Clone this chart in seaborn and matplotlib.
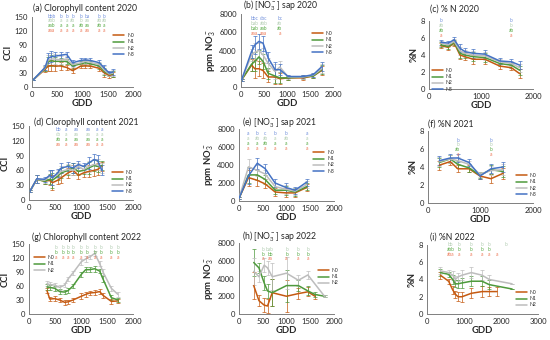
import numpy as np
import matplotlib
matplotlib.use("Agg")
import matplotlib.pyplot as plt
import matplotlib.transforms as mtransforms
from matplotlib.lines import Line2D
import seaborn as sns

# --- colours per N treatment ---
COLORS = {"N0": "#c55a11", "N1": "#4e9a3c", "N2": "#bdbdbd", "N3": "#4472c4"}
LET_COLORS = {"N0": "#ee7b5a", "N1": "#5aab48", "N2": "#b3cdb3", "N3": "#7391dc"}

# --- (a) Chlorophyll 2020 ---
A_GDD = [20, 260, 320, 385, 450, 565, 685, 805, 970, 1055, 1150, 1335, 1435, 1530, 1600]
A_N0 = [15, 38, 45, 46, 45, 45, 42, 35, 45, 45, 45, 40, 30, 25, 27]
A_N1 = [15, 40, 55, 56, 55, 55, 55, 45, 50, 52, 50, 45, 33, 28, 28]
A_N2 = [15, 41, 58, 60, 60, 58, 60, 48, 52, 55, 53, 48, 36, 28, 30]
A_N3 = [15, 42, 62, 65, 66, 68, 70, 52, 57, 58, 57, 52, 40, 30, 32]
A_ERR = [1, 5, 10, 12, 10, 8, 6, 6, 5, 5, 5, 6, 8, 5, 6]
A_LET_GDD = [385, 565, 685, 805, 970, 1100, 1335, 1435]
A_LET_N3 = ["bbb", "b", "b", "b", "b", "ba", "b", "b"]
A_LET_N2 = ["abb", "a", "a", "ab", "b", "aa", "ab", "ab"]
A_LET_N1 = ["aab", "a", "a", "a", "ab", "aa", "ab", "a"]
A_LET_N0 = ["aaa", "a", "a", "a", "a", "aa", "a", "a"]

# --- (b) NO3 sap 2020 ---
B_GDD = [15, 230, 300, 390, 480, 590, 740, 845, 1025, 1350, 1570, 1750]
B_N0 = [800, 2400, 2000, 2000, 1800, 1100, 1100, 900, 1000, 1000, 1200, 1800]
B_N1 = [800, 2500, 2800, 3300, 2800, 1500, 1200, 1000, 1000, 1100, 1200, 1900]
B_N2 = [800, 3500, 3800, 4000, 3500, 2600, 1700, 2200, 1100, 1100, 1300, 2000]
B_N3 = [800, 3900, 4600, 5000, 4800, 3200, 1900, 1900, 1150, 1150, 1350, 2200]
B_ERR = [100, 700, 1000, 800, 800, 600, 800, 600, 200, 200, 200, 500]
B_LET_GDD = [290, 490, 845]
B_LET_N3 = ["bbc", "cbc", "bc"]
B_LET_N2 = ["bab", "abb", "ab"]
B_LET_N1 = ["bab", "aab", "ab"]
B_LET_N0 = ["aaa", "aaa", "a"]

# --- (c) %N 2020 ---
C_GDD = [230, 370, 485, 595, 690, 850, 1075, 1360, 1585, 1745]
C_N0 = [5.1, 4.9, 5.4, 4.0, 3.8, 3.5, 3.5, 2.7, 2.5, 1.8]
C_N1 = [5.2, 5.0, 5.5, 4.2, 4.0, 3.8, 3.7, 3.0, 2.8, 2.2]
C_N2 = [5.4, 5.2, 5.6, 4.5, 4.2, 4.0, 3.9, 3.2, 3.0, 2.5]
C_N3 = [5.5, 5.4, 5.8, 4.8, 4.4, 4.2, 4.1, 3.3, 3.2, 2.8]
C_ERR = [0.3, 0.3, 0.3, 0.5, 0.4, 0.5, 0.5, 0.3, 0.3, 0.5]
C_LET_GDD = [230, 1585]
C_LET_N3 = ["b", "b"]
C_LET_N2 = ["ab", "b"]
C_LET_N1 = ["ab", "ab"]
C_LET_N0 = ["a", "a"]

# --- (d) Chlorophyll 2021 ---
D_GDD = [20, 150, 300, 400, 450, 550, 620, 750, 850, 950, 1050, 1150, 1250, 1320, 1400]
D_N0 = [18, 42, 38, 40, 35, 40, 45, 55, 60, 50, 55, 58, 60, 62, 68]
D_N1 = [18, 42, 38, 42, 40, 48, 55, 60, 65, 58, 60, 65, 70, 68, 70]
D_N2 = [18, 42, 40, 48, 45, 52, 58, 62, 60, 68, 62, 68, 72, 72, 65]
D_N3 = [18, 43, 42, 50, 45, 55, 65, 68, 65, 72, 68, 75, 82, 80, 60]
D_ERR = [2, 8, 5, 10, 15, 8, 10, 10, 10, 8, 8, 12, 12, 12, 10]
D_LET_GDD = [570, 720, 912, 1132, 1300, 1395]
D_LET_N3 = ["bb", "a", "aa", "aa", "a", "a"]
D_LET_N2 = ["cb", "a", "aa", "aa", "a", "a"]
D_LET_N1 = ["ab", "a", "aa", "aa", "a", "a"]
D_LET_N0 = ["aa", "a", "aa", "aa", "a", "a"]

# --- (e) NO3 sap 2021 ---
E_GDD = [0, 200, 385, 550, 760, 990, 1180, 1425]
E_N0 = [300, 2600, 2300, 1900, 1000, 900, 900, 1500]
E_N1 = [300, 2900, 2900, 2400, 1200, 1200, 1000, 1600]
E_N2 = [300, 3800, 3400, 3000, 1600, 1300, 1100, 1800]
E_N3 = [300, 2800, 4200, 3600, 2000, 1500, 1200, 2100]
E_ERR = [100, 900, 600, 500, 400, 500, 400, 400]
E_LET_GDD = [200, 385, 550, 760, 990, 1425]
E_LET_N3 = ["a", "b", "c", "b", "b", "a"]
E_LET_N2 = ["a", "ab", "ab", "a", "ab", "a"]
E_LET_N1 = ["a", "a", "ab", "a", "a", "a"]
E_LET_N0 = ["a", "a", "a", "a", "a", "a"]

# --- (f) %N 2021 ---
F_GDD = [215, 423, 568, 782, 990, 1200, 1432]
F_N0 = [4.2, 4.6, 3.8, 3.8, 3.0, 2.7, 3.3]
F_N1 = [4.5, 4.9, 4.3, 3.9, 3.1, 3.7, 3.5]
F_N2 = [4.6, 4.9, 4.7, 4.3, 3.2, 3.6, 3.7]
F_N3 = [4.7, 5.0, 5.0, 4.5, 3.0, 3.8, 4.0]
F_ERR = [0.5, 0.4, 0.4, 0.4, 0.3, 0.5, 0.6]
F_LET_GDD = [568, 1200]
F_LET_N3 = ["b", "b"]
F_LET_N2 = ["b", "b"]
F_LET_N1 = ["ab", "b"]
F_LET_N0 = ["a", "a"]

# --- (g) Chlorophyll 2022 ---
G_GDD = [346, 400, 495, 590, 685, 750, 846, 1006, 1090, 1167, 1263, 1359, 1423, 1583, 1711]
G_N0 = [50, 32, 33, 30, 25, 26, 30, 38, 42, 45, 46, 48, 40, 27, 28]
G_N1 = [58, 57, 55, 48, 47, 50, 60, 85, 95, 95, 97, 92, 75, 35, 30]
G_N2 = [65, 63, 62, 57, 62, 75, 88, 112, 118, 122, 130, 108, 90, 55, 42]
G_ERR = [6, 5, 5, 5, 5, 5, 5, 6, 6, 5, 6, 5, 6, 6, 5]
G_LET_GDD = [526, 654, 750, 846, 1006, 1115, 1263, 1391, 1583, 1711]
G_LET_N2 = ["b", "b", "b", "b", "b", "b", "b", "b", "b", "b"]
G_LET_N1 = ["b", "b", "b", "b", "b", "b", "b", "b", "b", "b"]
G_LET_N0 = ["a", "a", "a", "a", "a", "a", "a", "a", "a", "a"]

# --- (h) NO3 sap 2022 ---
H_GDD = [310, 420, 530, 600, 700, 1000, 1250, 1450, 1600, 1800]
H_N0 = [3200, 1500, 1000, 900, 2400, 2000, 2300, 2500, 2000, np.nan]
H_N1 = [5800, 5200, 3500, 2600, 2400, 3200, 3200, 2600, 2200, 2000]
H_N2 = [4800, 4200, 5500, 5200, 4200, 4600, 3800, 4400, np.nan, 2000]
H_ERR = [1500, 600, 800, 800, 1500, 1800, 600, 500, 300, 100]
H_LET_GDD = [505, 650, 1000, 1245, 1445]
H_LET_N2 = ["b", "bab", "b", "b", "b"]
H_LET_N1 = ["b", "bb", "b", "b", "b"]
H_LET_N0 = ["a", "aa", "a", "a", "a"]

# --- (i) %N 2022 ---
I_GDD = [360, 585, 694, 766, 838, 946, 1198, 1487, 1685, 1892, 2300]
I_N0 = [4.5, 3.8, 2.8, 2.3, 2.0, 2.0, 2.4, 2.6, 2.6, 2.6, np.nan]
I_N1 = [4.8, 4.6, 4.0, 3.5, 3.5, 3.6, 3.8, 3.8, 3.4, np.nan, 2.9]
I_N2 = [5.0, 4.8, 4.5, 4.0, 4.3, 4.5, 4.8, 4.5, 4.0, np.nan, 3.5]
I_ERR = [0.4, 0.3, 0.5, 0.4, 0.5, 0.6, 0.6, 0.6, 0.5, 0.5, 0.0]
I_LET_GDD = [640, 856, 1198, 1487, 1685, 1892, 2135]
I_LET_N2 = ["bb", "b", "b", "b", "b", "", "b"]
I_LET_N1 = ["abb", "b", "b", "b", "b", "", ""]
I_LET_N0 = ["aba", "a", "a", "a", "a", "a", ""]

NO3_LABEL = "ppm NO$_3^-$"

sns.set_theme(style="white")
plt.rcParams["font.family"] = ["Lato", "DejaVu Sans"]
plt.rcParams["mathtext.fontset"] = "custom"
plt.rcParams["mathtext.rm"] = "Lato"
plt.rcParams["mathtext.it"] = "Lato:italic"
plt.rcParams["mathtext.bf"] = "Lato:bold"

W, H = 550, 340
fig = plt.figure(figsize=(5.5, 3.4), dpi=100)


def px_axes(left, right, top, bottom):
    return fig.add_axes([left / W, 1 - bottom / H, (right - left) / W, (bottom - top) / H])


def draw_panel(ax, gdd, series, err, xmax, xticks, ymax, yticks, ylabel,
               let_gdd, letters, rows, title, title_xy, leg_xy):
    x = np.array(gdd, dtype=float)
    e = np.array(err, dtype=float)
    for name, vals in series.items():
        y = np.array(vals, dtype=float)
        ok = ~np.isnan(y)
        ax.errorbar(x[ok], y[ok], yerr=e[ok], fmt="none", ecolor=COLORS[name],
                    elinewidth=0.5, capsize=1.2, capthick=0.5, zorder=2)
        sns.lineplot(x=x[ok], y=y[ok], ax=ax, color=COLORS[name], lw=1.1, zorder=3)

    ax.set_xlim(0, xmax)
    ax.set_ylim(0, ymax)
    ax.set_xticks(xticks)
    ax.set_yticks(yticks)
    ax.set_xlabel("GDD", fontsize=6.8, fontweight="bold", labelpad=0.5)
    ax.set_ylabel(ylabel, fontsize=6.8, fontweight="bold", labelpad=1)
    ax.tick_params(axis="both", labelsize=5.5, length=2, width=0.5, pad=1, direction="out")
    for s in ["top", "right"]:
        ax.spines[s].set_visible(False)
    for s in ["left", "bottom"]:
        ax.spines[s].set_color("#7f7f7f")
        ax.spines[s].set_linewidth(0.7)

    # significance letters above the curves
    trans = mtransforms.blended_transform_factory(ax.transData, ax.transAxes)
    for (name, labs), ry in zip(letters.items(), rows):
        for gx, lab in zip(let_gdd, labs):
            if lab:
                ax.text(gx, ry, lab, transform=trans, fontsize=3.5, color=LET_COLORS[name],
                        ha="center", va="center", clip_on=False)

    fig.text(title_xy[0] / W, 1 - title_xy[1] / H, title, fontsize=6.2,
             ha="left", va="center")

    handles = [Line2D([0], [0], color=COLORS[n], lw=1.1) for n in series]
    ax.legend(handles, list(series.keys()), loc="upper left",
              bbox_to_anchor=(leg_xy[0] / W, 1 - leg_xy[1] / H),
              bbox_transform=fig.transFigure, frameon=False, fontsize=3.6,
              handlelength=2.2, handletextpad=0.6, labelspacing=0.25,
              borderpad=0, borderaxespad=0)


X2000 = [0, 500, 1000, 1500, 2000]
CCI_T = [0, 30, 60, 90, 120, 150]
NO3_T = [0, 2000, 4000, 6000, 8000]
PN_T = [0, 2, 4, 6, 8]

# row 1
draw_panel(px_axes(32, 133, 17, 87), A_GDD,
           {"N0": A_N0, "N1": A_N1, "N2": A_N2, "N3": A_N3}, A_ERR,
           2000, X2000, 150, CCI_T, "CCI", A_LET_GDD,
           {"N3": A_LET_N3, "N2": A_LET_N2, "N1": A_LET_N1, "N0": A_LET_N0},
           [1.014, 0.943, 0.872, 0.801], "(a) Clorophyll content 2020", (33, 8), (113, 33))
draw_panel(px_axes(241, 333, 14, 87), B_GDD,
           {"N0": B_N0, "N1": B_N1, "N2": B_N2, "N3": B_N3}, B_ERR,
           2000, X2000, 8000, NO3_T, NO3_LABEL, B_LET_GDD,
           {"N3": B_LET_N3, "N2": B_LET_N2, "N1": B_LET_N1, "N0": B_LET_N0},
           [0.932, 0.864, 0.796, 0.728], "(b) [NO$_3^-$] sap 2020", (243, 6), (312, 31))
draw_panel(px_axes(429, 533, 21, 89), C_GDD,
           {"N0": C_N0, "N1": C_N1, "N2": C_N2, "N3": C_N3}, C_ERR,
           2000, [0, 1000, 2000], 8, PN_T, "%N", C_LET_GDD,
           {"N3": C_LET_N3, "N2": C_LET_N2, "N1": C_LET_N1, "N0": C_LET_N0},
           [1.0, 0.927, 0.854, 0.781], "(c) % N 2020", (430, 9), (432, 68))

# row 2
draw_panel(px_axes(29, 133, 126, 200), D_GDD,
           {"N0": D_N0, "N1": D_N1, "N2": D_N2, "N3": D_N3}, D_ERR,
           2000, X2000, 150, CCI_T, "CCI", D_LET_GDD,
           {"N3": D_LET_N3, "N2": D_LET_N2, "N1": D_LET_N1, "N0": D_LET_N0},
           [0.955, 0.888, 0.821, 0.754], "(d) Clorophyll content 2021", (34, 122), (112, 170))
draw_panel(px_axes(239, 334, 129, 201), E_GDD,
           {"N0": E_N0, "N1": E_N1, "N2": E_N2, "N3": E_N3}, E_ERR,
           2000, X2000, 8000, NO3_T, NO3_LABEL, E_LET_GDD,
           {"N3": E_LET_N3, "N2": E_LET_N2, "N1": E_LET_N1, "N0": E_LET_N0},
           [0.931, 0.862, 0.793, 0.724], "(e) [NO$_3^-$] sap 2021", (242, 123), (313, 150))
draw_panel(px_axes(428, 533, 131, 203), F_GDD,
           {"N0": F_N0, "N1": F_N1, "N2": F_N2, "N3": F_N3}, F_ERR,
           2000, [0, 1000, 2000], 8, PN_T, "%N", F_LET_GDD,
           {"N3": F_LET_N3, "N2": F_LET_N2, "N1": F_LET_N1, "N0": F_LET_N0},
           [0.875, 0.806, 0.737, 0.668], "(f) %N 2021", (428, 124), (516, 173))

# row 3
draw_panel(px_axes(29, 133, 244, 314), G_GDD,
           {"N0": G_N0, "N1": G_N1, "N2": G_N2}, G_ERR,
           2000, X2000, 150, CCI_T, "CCI", G_LET_GDD,
           {"N2": G_LET_N2, "N1": G_LET_N1, "N0": G_LET_N0},
           [0.943, 0.872, 0.801], "(g) Chlorophyll content 2022", (32, 237), (34, 255))
draw_panel(px_axes(239, 334, 243, 314), H_GDD,
           {"N0": H_N0, "N1": H_N1, "N2": H_N2}, H_ERR,
           2000, X2000, 8000, NO3_T, NO3_LABEL, H_LET_GDD,
           {"N2": H_LET_N2, "N1": H_LET_N1, "N0": H_LET_N0},
           [0.915, 0.845, 0.775], "(h) [NO$_3^-$] sap 2022", (242, 237), (318, 268))
draw_panel(px_axes(427, 538, 245, 314), I_GDD,
           {"N0": I_N0, "N1": I_N1, "N2": I_N2}, I_ERR,
           3000, [0, 1000, 2000, 3000], 8, PN_T, "%N", I_LET_GDD,
           {"N2": I_LET_N2, "N1": I_LET_N1, "N0": I_LET_N0},
           [1.0, 0.928, 0.856], "(i) %N 2022", (430, 237), (516, 290))

fig.savefig("out.png", dpi=100)
